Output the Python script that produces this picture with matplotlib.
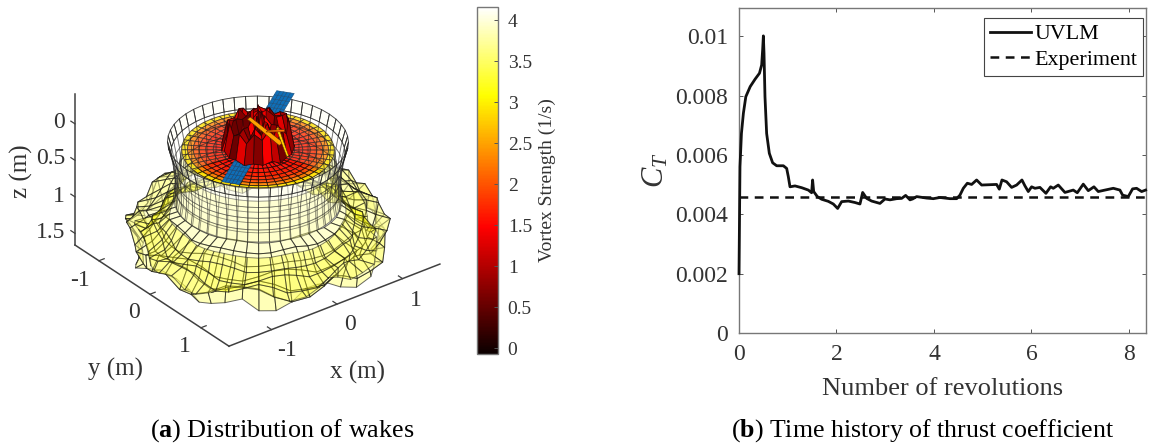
import numpy as np
from matplotlib import pyplot as plt
from matplotlib.cm import ScalarMappable
from matplotlib.collections import PolyCollection
from matplotlib.colors import Normalize

plt.rcParams["font.family"] = ["Liberation Serif", "DejaVu Serif"]
plt.rcParams["mathtext.fontset"] = "custom"
plt.rcParams["mathtext.rm"] = "Liberation Serif"
plt.rcParams["mathtext.it"] = "Liberation Serif:italic"
plt.rcParams["mathtext.bf"] = "Liberation Serif:bold"

# thrust coefficient history
revolutions = [0, 0.02, 0.05, 0.09, 0.14, 0.23, 0.33, 0.42, 0.465, 0.485, 0.50, 0.513, 0.533, 0.567, 0.622,
               0.69, 0.773, 0.91, 0.978, 1.012, 1.046, 1.149, 1.286, 1.422, 1.49, 1.51, 1.532, 1.607, 1.696,
               1.832, 1.935, 2.024, 2.106, 2.243, 2.38, 2.482, 2.537, 2.619, 2.721, 2.892, 2.995, 3.098,
               3.234, 3.337, 3.419, 3.508, 3.562, 3.644, 3.85, 3.986, 4.123, 4.328, 4.465, 4.533, 4.602,
               4.684, 4.773, 4.875, 4.978, 5.285, 5.34, 5.395, 5.49, 5.593, 5.696, 5.805, 5.867, 5.935,
               6.003, 6.072, 6.174, 6.297, 6.393, 6.448, 6.55, 6.687, 6.858, 6.94, 7.063, 7.166, 7.282,
               7.371, 7.508, 7.679, 7.815, 7.87, 7.986, 8.075, 8.157, 8.26, 8.342]
ct_uvlm = [2.0, 5.61, 6.73, 7.41, 7.97, 8.31, 8.56, 8.76, 9.04, 9.55, 10.02, 9.43, 7.97, 6.73, 6.06,
           5.74, 5.64, 5.64, 5.55, 5.27, 4.93, 4.96, 4.90, 4.82, 4.73, 5.16, 4.77, 4.60, 4.51,
           4.44, 4.35, 4.20, 4.43, 4.45, 4.40, 4.35, 4.74, 4.54, 4.45, 4.37, 4.52, 4.49,
           4.53, 4.54, 4.64, 4.49, 4.52, 4.60, 4.55, 4.53, 4.57, 4.53, 4.53, 4.65, 4.88,
           5.05, 5.01, 5.16, 4.99, 5.01, 4.85, 5.16, 5.10, 4.91, 4.99, 5.16, 4.96, 4.77,
           4.93, 4.88, 4.91, 4.71, 4.93, 4.88, 4.99, 4.74, 4.82, 4.73, 5.02, 4.80, 4.93,
           4.77, 4.82, 4.88, 4.82, 4.65, 4.60, 4.86, 4.88, 4.77, 4.82]
ct_experiment = 4.58
ct_ticks = [0, 2, 4, 6, 8, 10]
ct_labels = ["0", "0.002", "0.004", "0.006", "0.008", "0.01"]

# wake sheets: radius, depth, vortex strength per ring
disc_r = [0.0, 0.14, 0.24, 0.34, 0.44, 0.54, 0.63, 0.71, 0.78, 0.85, 0.92]
disc_z = [0.26, 0.26, 0.26, 0.26, 0.26, 0.26, 0.26, 0.26, 0.26, 0.26, 0.26]
disc_g = [1.4, 1.4, 1.4, 1.45, 1.5, 1.55, 1.65, 1.8, 2.05, 2.5, 3.3]
rim_r = [1.09, 1.05, 1.02, 1.00, 1.00, 1.02]
rim_z = [0.15, 0.30, 0.46, 0.62, 0.78, 0.93]
rim_g = [4.1, 4.1, 4.1, 4.1, 4.0, 3.9]
tube_r = [0.92, 0.94, 0.96, 0.97, 0.98, 1.00]
tube_z = [0.26, 0.42, 0.56, 0.70, 0.83, 0.95]
tube_g = [3.9, 3.8, 2.6, 3.9, 2.5, 3.8]
skirt_r = [1.00, 1.15, 1.30, 1.42, 1.50, 1.52, 1.46]
skirt_z = [0.95, 1.00, 1.08, 1.17, 1.27, 1.38, 1.50]
skirt_g = [3.75, 3.75, 3.7, 3.7, 3.65, 3.6, 3.5]
band_r = [1.06, 1.16, 1.25, 1.34, 1.42]
band_z = [1.12, 1.25, 1.33, 1.40, 1.44]
band_g = [3.4, 3.15, 3.05, 3.15, 3.4]
# hand-read unevenness of the rolled-up outer wake
wobble_r = [0.06, 0.09, 0.03, -0.02, -0.07, -0.05, 0.02, 0.08, 0.11, 0.05, -0.01, -0.06,
            -0.09, -0.04, 0.03, 0.01, -0.03, 0.04, 0.09, 0.06, 0.00, -0.05, -0.08, -0.03,
            0.04, 0.10, 0.07, 0.01, -0.04, -0.10, -0.06, 0.02, 0.05, 0.09, 0.03, -0.02,
            -0.07, -0.03, 0.05, 0.08, 0.02, -0.05, -0.09, -0.04, 0.01, 0.07, 0.10, 0.04]
wobble_z = [-0.06, -0.02, 0.05, 0.10, 0.04, -0.03, -0.09, -0.05, 0.02, 0.08, 0.11, 0.03,
            -0.04, -0.10, -0.07, 0.01, 0.07, 0.03, -0.05, -0.11, -0.04, 0.06, 0.10, 0.05,
            -0.02, -0.08, -0.03, 0.04, 0.09, 0.02, -0.06, -0.10, -0.02, 0.05, 0.08, 0.10,
            0.01, -0.07, -0.04, 0.03, 0.09, 0.05, -0.03, -0.08, -0.10, -0.02, 0.04, 0.07]
# vortex core above the hub, one row per ring
core_r = [0.0, 0.10, 0.20, 0.29, 0.37, 0.44]
core_z = [[-0.22, -0.30, -0.18, -0.34, -0.14, -0.28, -0.08, -0.36, -0.20, -0.30, -0.10, -0.26,
           -0.16, -0.32, -0.06, -0.28, -0.18, -0.12, -0.30, -0.06, -0.24, -0.14, -0.28, -0.12],
          [-0.16, -0.26, -0.10, -0.30, -0.06, -0.24, 0.00, -0.32, -0.14, -0.26, -0.02, -0.22,
           -0.10, -0.28, 0.02, -0.22, -0.12, -0.04, -0.24, 0.00, -0.18, -0.06, -0.22, -0.04],
          [-0.08, -0.18, -0.02, -0.22, 0.00, -0.16, 0.06, -0.24, -0.06, -0.18, 0.04, -0.14,
           -0.02, -0.20, 0.08, -0.14, -0.04, 0.04, -0.16, 0.08, -0.10, 0.00, -0.14, 0.02],
          [-0.10, -0.20, -0.06, -0.24, -0.04, -0.18, 0.00, -0.26, -0.10, -0.20, -0.02, -0.16,
           -0.06, -0.22, 0.02, -0.16, -0.08, 0.00, -0.18, 0.02, -0.14, -0.04, -0.16, -0.02],
          [-0.08, -0.16, -0.06, -0.20, -0.04, -0.14, -0.02, -0.22, -0.08, -0.16, -0.02, -0.12,
           -0.06, -0.18, 0.00, -0.12, -0.06, -0.02, -0.14, 0.00, -0.10, -0.04, -0.12, -0.02],
          [0.22, 0.20, 0.24, 0.18, 0.22, 0.20, 0.24, 0.18, 0.22, 0.20, 0.24, 0.20,
           0.22, 0.18, 0.24, 0.20, 0.22, 0.24, 0.20, 0.24, 0.22, 0.22, 0.20, 0.24]]
core_g = [1.0, 1.4, 0.7, 1.3, 0.9, 0.6, 1.5, 0.8, 1.2, 0.6, 1.1, 1.45,
          0.7, 0.9, 1.3, 0.55, 1.0, 1.4, 0.65, 1.2, 0.8, 1.35, 0.7, 1.1]
# thin bright filaments inside the core: x, y, depth at both ends
sliver_x = [[-0.10, -0.04, 0.20, 0.12], [0.12, 0.17, 0.08, 0.05], [0.00, 0.04, 0.30, 0.26]]
sliver_y = [[-0.08, -0.10, 0.24, 0.26], [0.20, 0.18, 0.50, 0.50], [0.16, 0.14, 0.14, 0.18]]
sliver_z = [[-0.16, -0.16, 0.12, 0.12], [-0.08, -0.08, 0.14, 0.14], [-0.06, -0.06, 0.02, 0.02]]
sliver_g = [2.5, 2.8, 2.2]
blade_span = [-1.13, -1.03, -0.93, -0.83, -0.73, -0.63, -0.53, -0.43, -0.33, 0.33, 0.43, 0.53, 0.63,
              0.73, 0.83, 0.93, 1.03, 1.13]
blade_chord = [-0.11, -0.065, -0.02, 0.02, 0.065, 0.11]
blade_z = 0.09

x_ticks = [-1, 0, 1]
y_ticks = [-1, 0, 1]
z_ticks = [0, 0.5, 1, 1.5]
bar_ticks = [0, 0.5, 1, 1.5, 2, 2.5, 3, 3.5, 4]

X_LIM = (-1.65, 1.57)
Y_LIM = (-1.47, 1.55)
Z_LIM = (-0.41, 1.66)
AXIS_COLOR = "#404040"
norm = Normalize(-0.07, 4.16)
cmap = plt.get_cmap("hot")


def project(x, y, z):
    # fixed view of the 3D scene, measured off the tick marks
    return 258 + 65.5 * x + 51 * y, 131 - 25.5 * x + 33.5 * y + 73 * z


def polar_cells(radius, depth, strength, n_az, alpha, wobble=0.0, shift=0):
    cells = []
    for i in range(len(radius) - 1):
        for j in range(n_az):
            corners = []
            for ring, az in [(i, j), (i, j + 1), (i + 1, j + 1), (i + 1, j)]:
                angle = 2 * np.pi * az / n_az
                k = (az + ring * 5 + shift) % 48
                r = radius[ring] + wobble * wobble_r[k] * (ring + 1) / len(radius)
                z = depth[ring] + wobble * wobble_z[k] * (ring + 1) / len(radius)
                corners.append((r * np.cos(angle), r * np.sin(angle), z))
            cells.append((corners, (strength[i] + strength[i + 1]) / 2, alpha))
    return cells


def view_depth(corners):
    pts = np.array(corners).mean(axis=0)
    return (-25.5 * pts[0] + 33.5 * pts[1]) / 42 * 0.87 - pts[2] * 0.5


def draw_cells(ax, cells, edge, lw):
    cells = sorted(cells, key=lambda c: view_depth(c[0]))
    polys = [[project(*p) for p in c[0]] for c in cells]
    faces = cmap(norm([c[1] for c in cells]))
    faces[:, 3] = [c[2] for c in cells]
    ax.add_collection(PolyCollection(polys, facecolors=faces, edgecolors=edge, linewidths=lw))


fig = plt.figure(figsize=(11.49, 4.48), dpi=100)

# whole figure in pixel units for the projected scene
ax3 = fig.add_axes([0, 0, 1, 1])
ax3.set_xlim(0, 1149)
ax3.set_ylim(448, 0)
ax3.axis("off")

draw_cells(ax3, polar_cells(skirt_r, skirt_z, skirt_g, 48, 0.5, wobble=1.3), (0.05, 0.05, 0.05, 0.62), 0.7)
draw_cells(ax3, polar_cells(band_r, band_z, band_g, 48, 0.35, wobble=1.0, shift=5), (0.05, 0.05, 0.05, 0.5), 0.7)
draw_cells(ax3, polar_cells(tube_r, tube_z, tube_g, 48, 0.22), (0.1, 0.1, 0.1, 0.35), 0.6)
draw_cells(ax3, polar_cells(disc_r, disc_z, disc_g, 48, 0.92), (0.08, 0.03, 0.03, 0.8), 0.6)
draw_cells(ax3, polar_cells(rim_r, rim_z, rim_g, 48, 0.16), (0.1, 0.1, 0.1, 0.4), 0.6)
draw_cells(ax3, polar_cells(rim_r[:2], rim_z[:2], rim_g[:2], 48, 0.3), (0.1, 0.1, 0.1, 0.7), 0.6)

# blade panels
blade_dir = np.array([0.927, -0.652]) / 1.13
chord_dir = np.array([0.652, 0.927]) / 1.13
blade_polys = []
for i in range(len(blade_span) - 1):
    for j in range(len(blade_chord) - 1):
        poly = []
        for s, c in [(i, j), (i + 1, j), (i + 1, j + 1), (i, j + 1)]:
            p = blade_span[s] * blade_dir + blade_chord[c] * chord_dir
            poly.append(project(p[0], p[1], blade_z))
        blade_polys.append(poly)
ax3.add_collection(PolyCollection(blade_polys, facecolors="#0f6fb8", edgecolors="#1b4f7c", linewidths=0.4))

# tangled vortex core
core_polys, core_faces = [], []
n_core = len(core_g)
for i in range(len(core_r) - 1):
    for j in range(n_core):
        poly = []
        for ring, az in [(i, j), (i, j + 1), (i + 1, j + 1), (i + 1, j)]:
            angle = 2 * np.pi * az / n_core
            poly.append(project(core_r[ring] * np.cos(angle), core_r[ring] * np.sin(angle),
                                core_z[ring][az % n_core]))
        core_polys.append(poly)
        core_faces.append(core_g[(j + i) % n_core])
core_order = np.argsort([np.mean([p[1] for p in poly]) for poly in core_polys])
ax3.add_collection(PolyCollection([core_polys[k] for k in core_order],
                                  array=np.array([core_faces[k] for k in core_order]),
                                  cmap=cmap, norm=norm, edgecolors="#2a0505", linewidths=0.5))
sliver_polys = [[project(a, b, c) for a, b, c in zip(xs, ys, zs)]
                for xs, ys, zs in zip(sliver_x, sliver_y, sliver_z)]
ax3.add_collection(PolyCollection(sliver_polys, array=np.array(sliver_g), cmap=cmap, norm=norm,
                                  edgecolors="#5a2a05", linewidths=0.4))

# box edges of the 3D axes
for start, end in [((X_LIM[0], Y_LIM[0], Z_LIM[0]), (X_LIM[0], Y_LIM[0], Z_LIM[1])),
                   ((X_LIM[0], Y_LIM[0], Z_LIM[1]), (X_LIM[0], Y_LIM[1], Z_LIM[1])),
                   ((X_LIM[0], Y_LIM[1], Z_LIM[1]), (X_LIM[1], Y_LIM[1], Z_LIM[1]))]:
    a, b = project(*start), project(*end)
    ax3.plot([a[0], b[0]], [a[1], b[1]], color=AXIS_COLOR, lw=1.1)
for tick in z_ticks:
    a, b = project(X_LIM[0], Y_LIM[0] - 0.08, tick), project(X_LIM[0], Y_LIM[0], tick)
    ax3.plot([a[0], b[0]], [a[1], b[1]], color=AXIS_COLOR, lw=0.9)
for tick in y_ticks:
    a, b = project(X_LIM[0], tick, Z_LIM[1]), project(X_LIM[0] + 0.08, tick, Z_LIM[1])
    ax3.plot([a[0], b[0]], [a[1], b[1]], color=AXIS_COLOR, lw=0.9)
for tick in x_ticks:
    a, b = project(tick, Y_LIM[1], Z_LIM[1]), project(tick, Y_LIM[1] - 0.08, Z_LIM[1])
    ax3.plot([a[0], b[0]], [a[1], b[1]], color=AXIS_COLOR, lw=0.9)

label_color = "#333333"
for tick, px, py in zip(["0", "0.5", "1", "1.5"], [59, 51, 59, 51], [123, 159, 196, 232]):
    ax3.text(px, py, tick, fontsize=17, ha="center", va="center", color=label_color)
for tick, px, py in zip(["-1", "0", "1"], [80, 134, 185], [280, 313, 346]):
    ax3.text(px, py, tick, fontsize=17, ha="center", va="center", color=label_color)
for tick, px, py in zip(["-1", "0", "1"], [287, 350, 416], [351, 325, 300]):
    ax3.text(px, py, tick, fontsize=17, ha="center", va="center", color=label_color)
ax3.text(21, 171, "z (m)", fontsize=18, rotation=90, ha="center", va="center", color=label_color)
ax3.text(115, 369, "y (m)", fontsize=18, ha="center", va="center", color=label_color)
ax3.text(358, 372, "x (m)", fontsize=18, ha="center", va="center", color=label_color)

ax3.text(282, 431, r"($\mathbf{a}$) Distribution of wakes", fontsize=18.8, ha="center", va="center")
ax3.text(923, 431, r"($\mathbf{b}$) Time history of thrust coefficient", fontsize=18.6, ha="center", va="center")

# colorbar
cax = fig.add_axes([477 / 1149, 1 - 354 / 448, 21 / 1149, 347 / 448])
cbar = fig.colorbar(ScalarMappable(norm=norm, cmap=cmap), cax=cax)
cbar.set_ticks(bar_ticks)
cbar.set_ticklabels(["0", "0.5", "1", "1.5", "2", "2.5", "3", "3.5", "4"])
cbar.ax.tick_params(direction="in", length=3, width=0.7, labelsize=14, pad=7, color="#555555", labelcolor=label_color)
cbar.outline.set_edgecolor("#777777")
cbar.outline.set_linewidth(1.0)
cbar.set_label("Vortex Strength (1/s)", fontsize=14, labelpad=5, color=label_color)

# thrust coefficient panel
ax = fig.add_axes([739 / 1149, 1 - 333 / 448, 407 / 1149, 325 / 448])
ax.plot(revolutions, ct_uvlm, color="#111111", lw=2.0, label="UVLM", clip_on=False, zorder=3)
ax.plot([0, 8.35], [ct_experiment, ct_experiment], color="#111111", lw=1.8, ls=(0, (3.5, 2.6)), label="Experiment")
ax.set_xlim(0, 8.35)
ax.set_ylim(0, 10.96)
ax.set_xticks([0, 2, 4, 6, 8])
ax.set_yticks(ct_ticks)
ax.set_yticklabels(ct_labels)
ax.tick_params(direction="in", top=True, right=True, length=3, width=0.7, labelsize=17, color="#555555",
               labelcolor=label_color, pad=8)
for spine in ax.spines.values():
    spine.set_color("#777777")
    spine.set_linewidth(1.0)
ax.set_xlabel("Number of revolutions", fontsize=19, color=label_color, labelpad=9)
ax.set_ylabel(r"$C_T$", fontsize=22, color=label_color, labelpad=3)
leg = ax.legend(loc="upper right", bbox_to_anchor=(0.993, 0.968), fontsize=15.8, frameon=True, fancybox=False,
                framealpha=1, edgecolor="#444444", borderaxespad=0, handlelength=1.9, handletextpad=0.15,
                borderpad=0.25, labelspacing=0.25)
leg.get_frame().set_linewidth(0.8)

fig.savefig("out.png", dpi=100)
